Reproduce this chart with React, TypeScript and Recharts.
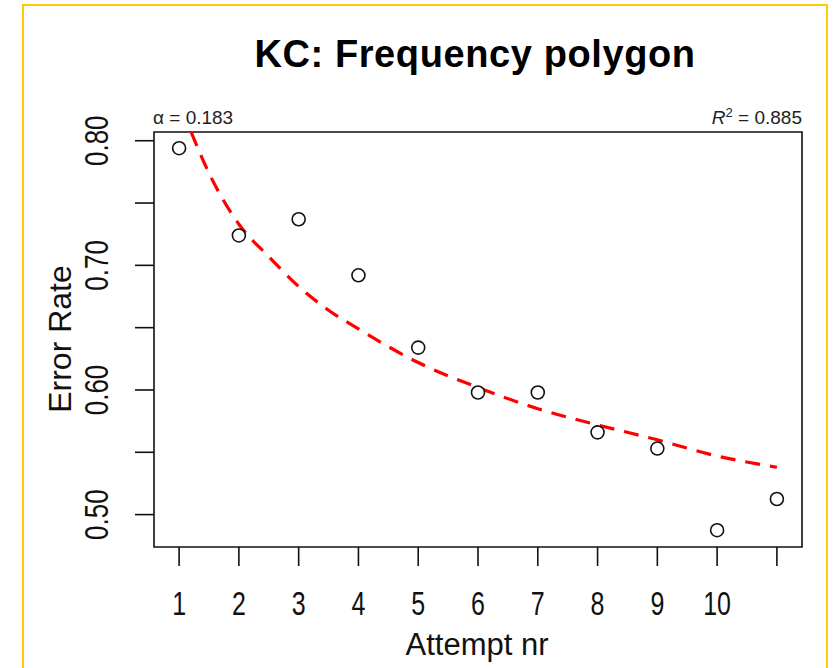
import { ComposedChart, Customized, Line, ReferenceArea, Scatter, XAxis, YAxis } from "recharts"

// observed error rate per attempt
const attempts = [1, 2, 3, 4, 5, 6, 7, 8, 9, 10, 11];
const errorRates = [0.794, 0.724, 0.737, 0.692, 0.634, 0.598, 0.598, 0.566, 0.553, 0.4875, 0.5125];

// fitted curve
const curveX = [1.2, 1.5, 2, 2.5, 3, 3.5, 4, 5, 6, 7, 8, 9, 10, 11];
const curveY = [0.807, 0.774, 0.733, 0.707, 0.683, 0.664, 0.649, 0.622, 0.602, 0.585, 0.572, 0.56, 0.547, 0.538];

const xTicks = [1, 2, 3, 4, 5, 6, 7, 8, 9, 10, 11];
const xTickLabels = ['1', '2', '3', '4', '5', '6', '7', '8', '9', '10', ''];
const yTicks = [0.5, 0.55, 0.6, 0.65, 0.7, 0.75, 0.8];
const yTickLabels = ['0.50', '', '0.60', '', '0.70', '', '0.80'];
const xDomain = [0.58, 11.42];
const yDomain = [0.474, 0.807];

const points = attempts.map((x, i) => ({ x, y: errorRates[i] }));
const curve = curveX.map((x, i) => ({ x, fit: curveY[i] }));

const FONT = '"Liberation Sans", Arial, sans-serif';
// R's labels here come out taller than they are wide
const STRETCH = 1.3;

const XTick = (props: any) => {
  const { x, y, payload } = props;
  const i = xTicks.indexOf(payload.value);
  return (
    <text transform={`translate(${x}, ${y}) scale(1, ${STRETCH})`} textAnchor="middle"
      fontFamily={FONT} fontSize={25} fill="#111">
      {xTickLabels[i]}
    </text>
  );
};

const YTick = (props: any) => {
  const { x, y, payload } = props;
  const i = yTicks.findIndex(t => Math.abs(t - payload.value) < 1e-6);
  return (
    <text transform={`translate(${x}, ${y}) rotate(-90) scale(1, ${STRETCH})`} textAnchor="middle"
      fontFamily={FONT} fontSize={26} fill="#111">
      {yTickLabels[i]}
    </text>
  );
};

const OpenCircle = (props: any) => {
  const { cx, cy } = props;
  return <circle cx={cx} cy={cy} r={6.5} fill="#fff" stroke="#111" strokeWidth={1.6} />;
};

const Texts = () => (
  <g fontFamily={FONT}>
    <text x={475} y={67} textAnchor="middle" fontSize={38} fontWeight="bold" letterSpacing={0.6} fill="#000">
      KC: Frequency polygon
    </text>
    <text x={477} y={655} textAnchor="middle" fontSize={31} fill="#111">Attempt nr</text>
    <text x={71} y={339} transform="rotate(-90, 71, 339)" textAnchor="middle" fontSize={32} fill="#111">
      Error Rate
    </text>
    <text x={153} y={124} fontSize={19} fill="#222">α = 0.183</text>
    <text x={802} y={124} textAnchor="end" fontSize={19} fill="#222">
      <tspan fontStyle="italic">R</tspan>
      <tspan dy={-7} fontSize={13}>2</tspan>
      <tspan dy={7}> = 0.885</tspan>
    </text>
  </g>
);

export default function App() {
  return (
    <div style={{ position: 'absolute', left: 0, top: 0, width: 836, height: 668, overflow: 'hidden', background: '#fff' }}>
      <div style={{ position: 'absolute', left: 22, top: 4, width: 802, height: 720, border: '2px solid #FFCC00' }} />
      <div style={{ position: 'absolute', left: 0, top: 0 }}>
        <ComposedChart width={836} height={668} margin={{ top: 132, right: 34, bottom: 0, left: 0 }}>
          <XAxis type="number" dataKey="x" domain={xDomain} ticks={xTicks} allowDataOverflow
            axisLine={false} tickLine={{ stroke: '#111', strokeWidth: 1.6 }} tickSize={19} tickMargin={49}
            height={121} tick={<XTick />} interval={0} />
          <YAxis type="number" domain={yDomain} ticks={yTicks} allowDataOverflow
            axisLine={false} tickLine={{ stroke: '#111', strokeWidth: 1.6 }} tickSize={19} tickMargin={27}
            width={154} tick={<YTick />} interval={0} />
          <ReferenceArea x1={xDomain[0]} x2={xDomain[1]} y1={yDomain[0]} y2={yDomain[1]}
            fill="none" fillOpacity={0} stroke="#111" strokeWidth={1.6} ifOverflow="visible" />
          <Line data={curve} dataKey="fit" type="monotone" stroke="#ff0000" strokeWidth={3.2}
            strokeDasharray="15 10" dot={false} activeDot={false} isAnimationActive={false} />
          <Scatter data={points} dataKey="y" shape={<OpenCircle />} isAnimationActive={false} />
          <Customized component={<Texts />} />
        </ComposedChart>
      </div>
    </div>
  );
}
